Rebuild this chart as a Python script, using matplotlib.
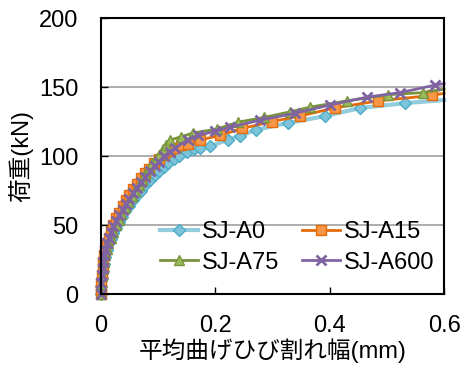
import numpy as np
import matplotlib
matplotlib.use("Agg")
import matplotlib.pyplot as plt

plt.rcParams['font.family'] = ['Liberation Sans', 'Noto Sans CJK JP', 'DejaVu Sans']

# 平均曲げひび割れ幅 (mm) と 荷重 (kN)
x_a0 = [0, 0.001, 0.002, 0.003, 0.005, 0.007, 0.01, 0.013, 0.017, 0.021, 0.026, 0.031, 0.037,
        0.043, 0.05, 0.057, 0.064, 0.071, 0.078, 0.086, 0.094, 0.102, 0.11, 0.118, 0.127, 0.137,
        0.15, 0.163, 0.173, 0.191, 0.222, 0.243, 0.271, 0.327, 0.392, 0.453, 0.532, 0.6]
y_a0 = [0, 6, 12, 17, 22, 27, 32, 36, 40, 44, 48, 52, 56, 60, 64, 68, 72, 75, 79, 83, 86, 89,
        92, 95, 98, 100, 103, 105, 106, 107, 112, 114.5, 119, 124, 129, 134.8, 138.4, 140.6]

x_a15 = [0, 0.0005, 0.001, 0.002, 0.003, 0.004, 0.006, 0.008, 0.011, 0.014, 0.018, 0.022, 0.027,
         0.032, 0.038, 0.044, 0.05, 0.057, 0.064, 0.071, 0.078, 0.085, 0.093, 0.101, 0.11, 0.12,
         0.13, 0.14, 0.152, 0.173, 0.208, 0.247, 0.299, 0.348, 0.41, 0.485, 0.579, 0.6]
y_a15 = [0, 3, 8, 14, 19, 23, 28, 32, 37, 41, 46, 50, 55, 59, 64, 68, 72, 76, 80, 84, 88, 91, 95,
         98, 101, 104, 106, 108, 109, 111.6, 115, 120, 125, 129, 135, 140, 144, 145.5]

x_a75 = [0, 0.001, 0.002, 0.003, 0.005, 0.007, 0.01, 0.013, 0.017, 0.021, 0.026, 0.031, 0.036,
         0.042, 0.048, 0.054, 0.06, 0.066, 0.072, 0.078, 0.084, 0.09, 0.096, 0.102, 0.108, 0.114,
         0.121, 0.14, 0.161, 0.203, 0.24, 0.285, 0.33, 0.366, 0.43, 0.502, 0.563, 0.6]
y_a75 = [0, 7, 13, 18, 23, 28, 33, 37, 41, 45, 50, 54, 58, 63, 67, 71, 75, 79, 83, 87, 91, 95, 98,
         101, 105, 108, 111.6, 114, 116.7, 119.6, 124.6, 128, 132, 135.5, 140, 144.5, 146, 148.5]

x_a600 = [0, 0.001, 0.002, 0.003, 0.004, 0.006, 0.008, 0.011, 0.014, 0.018, 0.022, 0.027, 0.032,
          0.038, 0.044, 0.05, 0.057, 0.064, 0.071, 0.078, 0.086, 0.094, 0.102, 0.11, 0.12, 0.13,
          0.152, 0.17, 0.2, 0.226, 0.278, 0.339, 0.4, 0.465, 0.523, 0.584, 0.6]
y_a600 = [0, 8, 14, 19, 23, 28, 32, 37, 41, 45, 49, 53, 57, 61, 65, 69, 73, 77, 81, 85, 89, 93,
          96, 100, 103, 106, 111.6, 115, 118, 121, 126, 131, 137, 142.7, 146, 151.4, 152.5]

series = [
    ('SJ-A0', x_a0, y_a0, dict(color='#93CDDD', lw=3, marker='D', ms=6.5,
                               mfc='#7DC4DA', mec='#4BACC6')),
    ('SJ-A15', x_a15, y_a15, dict(color='#E46C0A', lw=2, marker='s', ms=7,
                                  mfc='#F79646', mec='#E46C0A')),
    ('SJ-A75', x_a75, y_a75, dict(color='#77933C', lw=2, marker='^', ms=7.5,
                                  mfc='#9BBB59', mec='#77933C')),
    ('SJ-A600', x_a600, y_a600, dict(color='#8064A2', lw=2, marker='x', ms=7.5,
                                     mew=2, mec='#8064A2')),
]

fig = plt.figure(figsize=(4.67, 3.69), dpi=100)
ax = fig.add_axes([0.216, 0.203, 0.735, 0.748])

lines = {}
for label, x, y, kw in series:
    lines[label], = ax.plot(x, y, label=label, markevery=slice(0, -1), clip_on=False, **kw)

ax.set_xlim(0, 0.6)
ax.set_ylim(0, 200)
ax.set_xticks([0, 0.2, 0.4, 0.6])
ax.set_xticklabels(['0', '0.2', '0.4', '0.6'])
ax.set_yticks([0, 50, 100, 150, 200])
ax.grid(axis='y', color='#A0A0A0', lw=1.2)
ax.set_axisbelow(True)
for s in ax.spines.values():
    s.set_linewidth(1.5)
    s.set_color('black')
ax.tick_params(direction='in', length=5, width=1, labelsize=17)
ax.tick_params(axis='x', pad=15)
ax.tick_params(axis='y', pad=16)

ax.set_xlabel('平均曲げひび割れ幅(mm)', fontsize=17, labelpad=1)
ax.set_ylabel('荷重(kN)', fontsize=17, labelpad=4)

# 行ごとの並び: A0, A15 / A75, A600
order = ['SJ-A0', 'SJ-A75', 'SJ-A15', 'SJ-A600']
ax.legend([lines[k] for k in order], order, ncol=2, loc='lower left',
          bbox_to_anchor=(0.145, 0.04), frameon=False,
          fontsize=17, handlelength=1.6, handletextpad=0.15, columnspacing=1.0,
          labelspacing=0.35, borderaxespad=0)

fig.savefig('out.png', dpi=100)
